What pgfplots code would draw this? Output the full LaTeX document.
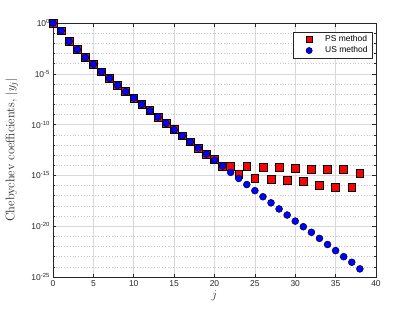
\documentclass[border=0pt]{standalone}
\usepackage{fontspec}
\usepackage{pgfplots}
\pgfplotsset{compat=1.18}
\newfontfamily\arial{Liberation Sans}
\definecolor{axgray}{gray}{0.15}
\begin{document}
\begin{tikzpicture}
\path[use as bounding box] (-53bp,-35bp) rectangle (362bp,277bp);
\begin{axis}[
  at={(0,0)}, anchor=south west,
  scale only axis, width=323bp, height=254bp,
  ymode=log, xmin=0, xmax=40, ymin=1e-25, ymax=1,
  log basis y=10,
  xtick={0,5,...,40},
  ytick={1e-25,1e-20,1e-15,1e-10,1e-5,1},
  yticklabels={10\textsuperscript{-25},10\textsuperscript{-20},10\textsuperscript{-15},10\textsuperscript{-10},10\textsuperscript{-5},10\textsuperscript{0}},
  minor ytick={1e-24,1e-23,1e-22,1e-21,1e-19,1e-18,1e-17,1e-16,1e-14,1e-13,1e-12,1e-11,1e-9,1e-8,1e-7,1e-6,1e-4,1e-3,1e-2,1e-1},
  /pgf/number format/assume math mode=true,
  ticklabel style={font=\arial\fontsize{8.5}{10}\selectfont, text=axgray},
  yticklabel style={xshift=0.5bp},
  tick align=inside,
  major tick length=3.5bp, minor tick length=2bp,
  tick style={axgray, line width=0.5bp},
  axis line style={axgray, line width=0.5bp},
  grid=both,
  major grid style={black!15, line width=0.5bp},
  minor grid style={black!22, dash pattern=on 0.6bp off 2.2bp, line width=0.5bp},
  xlabel={$j$},
  ylabel={Chebychev coefficients, $|y_j|$},
  label style={font=\fontsize{12.5}{14}\selectfont, text=axgray},
  xlabel style={at={(axis description cs:0.5,-0.072)}, anchor=center},
  ylabel style={at={(axis description cs:-0.128,0.5)}, anchor=center},
  legend style={at={(0.99,0.965)}, anchor=north east, font=\arial\fontsize{8.5}{10}\selectfont,
    draw=axgray, line width=0.5bp, inner xsep=3bp, inner ysep=1.5bp, row sep=-0.5bp,
    cells={anchor=west}},
  legend image code/.code={\path[draw=none] (0bp,0bp) -- (27bp,0bp); \draw[#1, mark size=3.1bp] plot coordinates {(13bp,0bp)};},
  legend cell align=left,
]
\addplot[only marks, mark=square*, mark size=3.9bp, mark options={fill=red, draw=black, line width=0.6bp}]
coordinates {
(0,1) (1,0.174) (2,0.0158) (3,2.51e-3) (4,3.98e-4) (5,8.51e-5) (6,1.58e-5) (7,3.55e-6)
(8,7.41e-7) (9,1.74e-7) (10,4.17e-8) (11,1.0e-8) (12,2.34e-9) (13,5.62e-10) (14,1.35e-10)
(15,3.16e-11) (16,7.94e-12) (17,2.0e-12) (18,5.01e-13) (19,1.26e-13) (20,3.98e-14)
(21,7.94e-15) (22,7.94e-15) (23,1.26e-15) (24,8.51e-15) (25,5.01e-16) (26,6.31e-15)
(27,3.98e-16) (28,6.31e-15) (29,3.16e-16) (30,5.01e-15) (31,2.51e-16) (32,3.98e-15)
(33,1.0e-16) (34,3.98e-15) (35,6.31e-17) (36,3.98e-15) (37,6.31e-17) (38,1.58e-15)
};
\addlegendentry{PS method}
\addplot[only marks, mark=*, mark size=3.5bp, mark options={fill=blue, draw=none}]
coordinates {
(0,1) (1,0.174) (2,0.0158) (3,2.51e-3) (4,3.98e-4) (5,8.51e-5) (6,1.58e-5) (7,3.55e-6)
(8,7.41e-7) (9,1.74e-7) (10,4.17e-8) (11,1.0e-8) (12,2.34e-9) (13,5.62e-10) (14,1.35e-10)
(15,3.16e-11) (16,7.94e-12) (17,2.0e-12) (18,5.01e-13) (19,1.26e-13) (20,3.16e-14)
(21,8.51e-15) (22,2.0e-15) (23,5.01e-16) (24,1.26e-16) (25,3.16e-17) (26,7.94e-18)
(27,2.0e-18) (28,5.01e-19) (29,1.26e-19) (30,3.16e-20) (31,8.91e-21) (32,2.51e-21)
(33,6.31e-22) (34,1.58e-22) (35,3.98e-23) (36,1.0e-23) (37,2.82e-24) (38,6.31e-25)
};
\addlegendentry{US method}
\end{axis}
\end{tikzpicture}
\end{document}
